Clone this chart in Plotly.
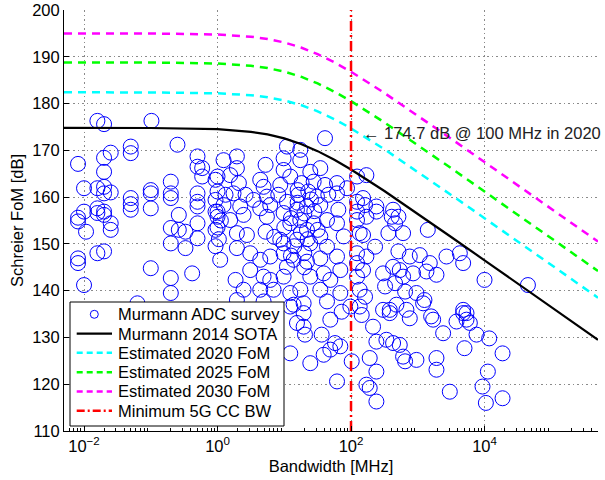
import numpy as np
import plotly.graph_objects as go

# ---------------- data ----------------
# Murmann ADC survey: log10(bandwidth in MHz) and Schreier FoM in dB
survey_log_bw = [
    # upper left
    -1.80, -1.70, -0.99, -1.30, -1.30, -0.60, -1.60, -1.70, -2.09, -0.30, -0.30, -0.23, -1.70,
    -0.23, -0.03, -0.70, -2.00, -1.80, -1.70, -1.70, -1.60, -1.00, -1.00, -0.70, -0.70, -1.30,
    -1.30, -0.30, -0.30, -0.03, -2.00, -1.80, -1.70, -1.00, -0.58, -0.30, -0.03, -2.09,
    # lower left
    -2.09, -1.97, -1.80, -1.70, -1.60, -1.60, -1.30, -0.70, -0.58, -0.48, -0.30, -0.30, -0.70,
    -0.48, -2.09, -2.09, -1.80, -1.70, -1.00, -0.70, -0.38, -2.00, -0.70, -1.20,
    0.00, 0.02, -0.03, 0.05,
    # centre, upper
    1.04, 1.24, 1.61, 0.99, 0.29, 0.09, 0.72, 0.29, 0.99, 1.24, 1.39, 1.54, 2.09, 2.23, 0.00,
    0.19, 0.32, 0.64, 0.69, 0.94, 1.09, 1.26, 1.44, 1.61, 1.79, 0.00, 0.12, 0.24, 0.42, 0.54,
    0.74, 0.91, 1.04, 1.21, 1.36, 1.49, 1.66, 1.79, 1.94, 2.09, 2.18, 0.09, 0.34, 0.64, 0.79,
    1.19, 1.34, 1.54, 1.81, 2.09, 0.00,
    # centre, lower
    0.00, 0.19, 0.39, 0.74, 0.99, 1.09, 1.24, 1.34, 1.44, 1.64, 1.79, 2.09, -0.03, 0.29, 0.44,
    0.72, 0.94, 0.99, 1.19, 1.39, 1.54, 1.64, 1.89, 2.13, 0.29, 0.49, 0.64, 0.79, 0.99, 1.14,
    1.34, 1.54, 1.79, 2.09, 2.09, 0.04, 0.27, 0.49, 0.69, 0.79, 0.99, 1.04, 1.39, 1.59, 1.69,
    1.84, 2.09, 2.18, 0.39, 0.64, 0.84, 1.09, 1.24, 1.54, 1.84, 2.13, 0.29, 0.69, 1.09, 1.29,
    1.64, 1.99, 2.13,
    # dense core near 10 MHz
    1.20, 1.30, 1.10, 1.25, 1.35, 1.15, 1.30, 1.45, 1.40, 1.20, 1.00, 0.85, 1.50, 1.30, 1.10,
    # right of the 100 MHz line
    2.21, 2.38, 2.63, 2.71,
    2.23, 2.38, 2.61, 2.66, 2.78, 2.56, 2.18, 3.15, 2.36, 2.23, 2.71, 2.88, 3.03, 3.18, 3.43,
    3.63, 3.68, 2.48, 2.63, 2.73, 2.78, 2.93, 3.13, 3.28, 2.51, 2.66, 2.81, 2.98, 3.10, 2.21,
    2.58, 2.83, 3.20, 3.68, 3.73, 4.00, 4.65,
    # bottom right
    1.14, 1.29, 1.19, 1.29, 1.09, 1.31, 1.39, 1.56, 1.69, 1.86, 1.59, 1.69, 1.76, 1.84, 2.01,
    1.79, 2.16, 2.33, 2.38, 2.28, 2.38, 2.23, 2.28, 2.38, 2.48, 2.58, 2.53, 2.63, 2.73, 2.78,
    2.81, 2.98, 2.68, 2.88, 3.08, 3.23, 3.38, 3.28, 3.28, 3.48, 3.58, 3.68, 3.73, 3.78, 3.88,
    4.07, 3.70, 4.27, 4.05, 3.97, 4.02, 4.27,
]
survey_fom = [
    176.3, 175.6, 176.3, 170.8, 169.4, 171.2, 169.5, 168.4, 167.1, 168.7, 166.5, 166.2, 165.4,
    164.4, 163.7, 163.3, 161.9, 161.9, 162.2, 160.8, 161.0, 161.5, 160.8, 160.8, 159.8, 159.8,
    158.5, 160.8, 159.0, 159.4, 156.9, 157.6, 156.9, 157.6, 156.2, 158.0, 156.9, 155.6,
    154.8, 152.6, 156.6, 156.2, 154.4, 153.0, 157.3, 153.4, 153.0, 152.6, 154.4, 151.2, 150.1,
    149.1, 146.9, 145.9, 148.0, 148.4, 144.8, 142.7, 143.7, 141.2, 139.5, 137.3,
    153.5, 151.0, 149.5, 155.0,
    170.8, 170.1, 172.6, 168.3, 168.7, 167.9, 166.9, 166.2, 165.8, 167.9, 165.4, 166.2, 164.4,
    164.7, 164.4, 164.7, 163.0, 163.7, 162.2, 162.6, 164.4, 163.0, 163.3, 162.6, 163.0, 161.2,
    160.5, 160.8, 160.5, 159.4, 160.1, 160.5, 159.0, 160.5, 161.2, 160.1, 160.5, 160.8, 161.9,
    159.0, 159.8, 158.3, 158.0, 157.6, 158.3, 157.3, 158.0, 158.3, 157.3, 156.9, 156.9,
    155.8, 155.1, 156.2, 155.8, 156.6, 154.4, 155.1, 153.0, 154.4, 155.1, 154.4, 155.1, 153.0,
    152.3, 151.9, 152.6, 150.9, 150.1, 150.9, 150.1, 151.6, 149.4, 151.6, 152.3, 149.1, 148.0,
    146.6, 147.3, 148.0, 146.6, 146.2, 146.9, 147.3, 148.0, 145.9, 146.6, 142.3, 144.4, 143.0,
    142.3, 143.0, 145.1, 143.0, 143.7, 142.3, 144.4, 143.0, 144.4, 140.2, 140.2, 140.2, 139.5,
    140.2, 140.2, 139.5, 140.2, 138.0, 137.7, 136.6, 137.3, 137.7, 136.6, 136.6,
    158.8, 156.5, 155.5, 152.5, 151.0, 149.5, 148.0, 157.0, 159.5, 161.5, 153.5, 151.5, 153.0,
    145.0, 147.5,
    158.3, 158.0, 157.3, 155.8,
    155.8, 156.9, 155.8, 154.4, 152.3, 152.3, 151.9, 153.0, 149.4, 147.3, 148.4, 147.3, 147.6,
    145.9, 147.3, 148.0, 145.9, 143.7, 145.1, 144.4, 143.0, 143.7, 144.1, 143.4, 140.9, 141.6,
    139.8, 139.5, 138.0, 138.7, 135.9, 135.9, 134.5, 135.9, 135.2, 142.3, 141.2,
    137.0, 135.2, 133.1, 132.3, 126.6, 130.6, 124.5, 130.6, 133.8, 135.5, 126.3, 127.4, 128.8,
    128.1, 124.9, 120.6, 134.8, 132.3, 129.1, 125.6, 122.7, 119.9, 119.2, 116.3, 135.9, 135.2,
    129.5, 128.8, 128.4, 125.9, 124.9, 125.2, 137.0, 134.1, 137.3, 133.8, 130.9, 125.6, 123.1,
    118.4, 133.4, 135.2, 133.8, 133.1, 130.6, 129.8, 127.7, 126.6, 122.7, 119.5, 116.0, 117.0,
]

# model curves: log10(bandwidth in MHz) and FoM in dB
curve_log_bw = [-2.3, -1.0, 0.0, 0.5, 0.75, 1.0, 1.25, 1.5, 1.75, 2.0, 2.5, 3.0, 3.5, 4.0, 5.0, 5.7]
sota_2014_fom = [174.8, 174.77, 174.52, 173.96, 173.40, 172.56, 171.37, 169.83, 167.99, 165.90,
                 161.30, 156.44, 151.48, 146.49, 136.50, 129.50]
est_2020_fom = [182.4, 182.38, 182.19, 181.78, 181.34, 180.67, 179.68, 178.34, 176.66, 174.69,
                170.23, 165.41, 160.47, 155.49, 145.50, 138.50]
est_2025_fom = [188.8, 188.78, 188.56, 188.07, 187.58, 186.83, 185.74, 184.30, 182.53, 180.51,
                175.97, 171.13, 166.18, 161.19, 151.20, 144.20]
est_2030_fom = [195.0, 194.98, 194.76, 194.29, 193.81, 193.06, 191.99, 190.56, 188.81, 186.79,
                182.26, 177.42, 172.48, 167.49, 157.50, 150.50]

# minimum 5G component-carrier bandwidth
cc_bw_mhz = [100, 100]
cc_fom = [110, 200]

x_tick_vals = [1e-2, 1e0, 1e2, 1e4]
x_tick_text = ["10<sup>\u22122</sup>", "10<sup>0</sup>", "10<sup>2</sup>", "10<sup>4</sup>"]
y_tick_vals = [110, 120, 130, 140, 150, 160, 170, 180, 190, 200]

legend_labels = ["Murmann ADC survey", "Murmann 2014 SOTA", "Estimated 2020 FoM",
                 "Estimated 2025 FoM", "Estimated 2030 FoM", "Minimum 5G CC BW"]
annotation_text = "\u2190 174.7 dB @ 100 MHz in 2020"

# ---------------- figure ----------------
FONT = "Liberation Sans, Arial, Helvetica, sans-serif"
FS = 16.5
BLUE, CYAN, GREEN, MAGENTA, RED = "#0000FF", "#00FFFF", "#00FF00", "#FF00FF", "#FF0000"

survey_bw = 10 ** np.array(survey_log_bw)
curve_bw = 10 ** np.array(curve_log_bw)
minor_tick_vals = [m * 10.0 ** k for k in range(-3, 6) for m in range(2, 10)]

fig = go.Figure()
fig.add_trace(go.Scatter(
    x=survey_bw, y=survey_fom, mode="markers", name=legend_labels[0],
    marker=dict(symbol="circle-open", size=15, color=BLUE, line=dict(width=1, color=BLUE)),
))
fig.add_trace(go.Scatter(x=curve_bw, y=sota_2014_fom, mode="lines", name=legend_labels[1],
                         line=dict(color="black", width=2.2)))
fig.add_trace(go.Scatter(x=curve_bw, y=est_2020_fom, mode="lines", name=legend_labels[2],
                         line=dict(color=CYAN, width=2.5, dash="8px,6px")))
fig.add_trace(go.Scatter(x=curve_bw, y=est_2025_fom, mode="lines", name=legend_labels[3],
                         line=dict(color=GREEN, width=2.5, dash="8px,6px")))
fig.add_trace(go.Scatter(x=curve_bw, y=est_2030_fom, mode="lines", name=legend_labels[4],
                         line=dict(color=MAGENTA, width=2.5, dash="8px,6px")))
fig.add_trace(go.Scatter(x=cc_bw_mhz, y=cc_fom, mode="lines", name=legend_labels[5],
                         line=dict(color=RED, width=2.5, dash="10px,4px,2px,4px")))

# plot area in pixels
L, R, T, B = 64, 598, 10, 431
W, H = 605, 480


def px(x):
    return (x - L) / (R - L)


def py(y):
    return (B - y) / (B - T)


shapes = []
annotations = []
# hand-drawn legend box (MATLAB style)
shapes.append(dict(type="rect", xref="paper", yref="paper", x0=px(70), x1=px(284),
                   y0=py(426), y1=py(302), line=dict(color="black", width=1),
                   fillcolor="white", layer="above"))
row_y = [314.3 + 19.28 * i for i in range(6)]
styles = [None,
          dict(color="black", width=2.2),
          dict(color=CYAN, width=2.5, dash="6px,4px"),
          dict(color=GREEN, width=2.5, dash="6px,4px"),
          dict(color=MAGENTA, width=2.5, dash="6px,4px"),
          dict(color=RED, width=2.5, dash="8px,3px,2px,3px")]
for i, (label, st) in enumerate(zip(legend_labels, styles)):
    yy = py(row_y[i])
    if st is None:
        shapes.append(dict(type="circle", xref="paper", yref="paper", xsizemode="pixel",
                           ysizemode="pixel", xanchor=px(94.3), yanchor=yy,
                           x0=-4, x1=4, y0=-4, y1=4, line=dict(color=BLUE, width=1)))
    else:
        shapes.append(dict(type="line", xref="paper", yref="paper", x0=px(76.7), x1=px(112),
                           y0=yy, y1=yy, line=st))
    annotations.append(dict(xref="paper", yref="paper", x=px(116.2), y=yy, text=label,
                            showarrow=False, xanchor="left", yanchor="middle",
                            font=dict(family=FONT, size=FS, color="black")))

annotations.append(dict(xref="x", yref="y", x=2.15, y=173.6, text=annotation_text,
                        showarrow=False, xanchor="left", yanchor="middle",
                        font=dict(family=FONT, size=FS, color="#222222")))

axis_common = dict(
    showline=True, linecolor="black", linewidth=1, mirror=False,
    ticks="inside", ticklen=5, tickcolor="black",
    showgrid=True, gridcolor="#8a8a8a", griddash="1.5px,3px", gridwidth=1,
    zeroline=False, tickfont=dict(family=FONT, size=FS, color="black"),
)

fig.update_layout(
    width=W, height=H,
    margin=dict(l=L, r=W - R, t=T, b=H - B),
    plot_bgcolor="white", paper_bgcolor="white",
    showlegend=False,
    font=dict(family=FONT, size=FS, color="black"),
    shapes=shapes, annotations=annotations,
    xaxis=dict(
        type="log", range=[-2.3, 5.7],
        tickmode="array", tickvals=x_tick_vals, ticktext=x_tick_text,
        minor=dict(ticks="inside", ticklen=3, tickcolor="black", tickmode="array",
                   tickvals=minor_tick_vals, showgrid=False),
        title=dict(text="Bandwidth [MHz]", font=dict(family=FONT, size=FS, color="black"),
                   standoff=6),
        automargin=False,
        **axis_common,
    ),
    yaxis=dict(
        range=[110, 200], tickmode="array", tickvals=y_tick_vals,
        title=dict(text="Schreier FoM [dB]", font=dict(family=FONT, size=FS, color="black"),
                   standoff=4),
        automargin=False,
        **axis_common,
    ),
)

fig.write_html(
    "out.html",
    config={"displayModeBar": False},
    post_script="document.body.style.margin='0';document.body.style.padding='0';"
                "document.documentElement.style.overflow='hidden';",
)
